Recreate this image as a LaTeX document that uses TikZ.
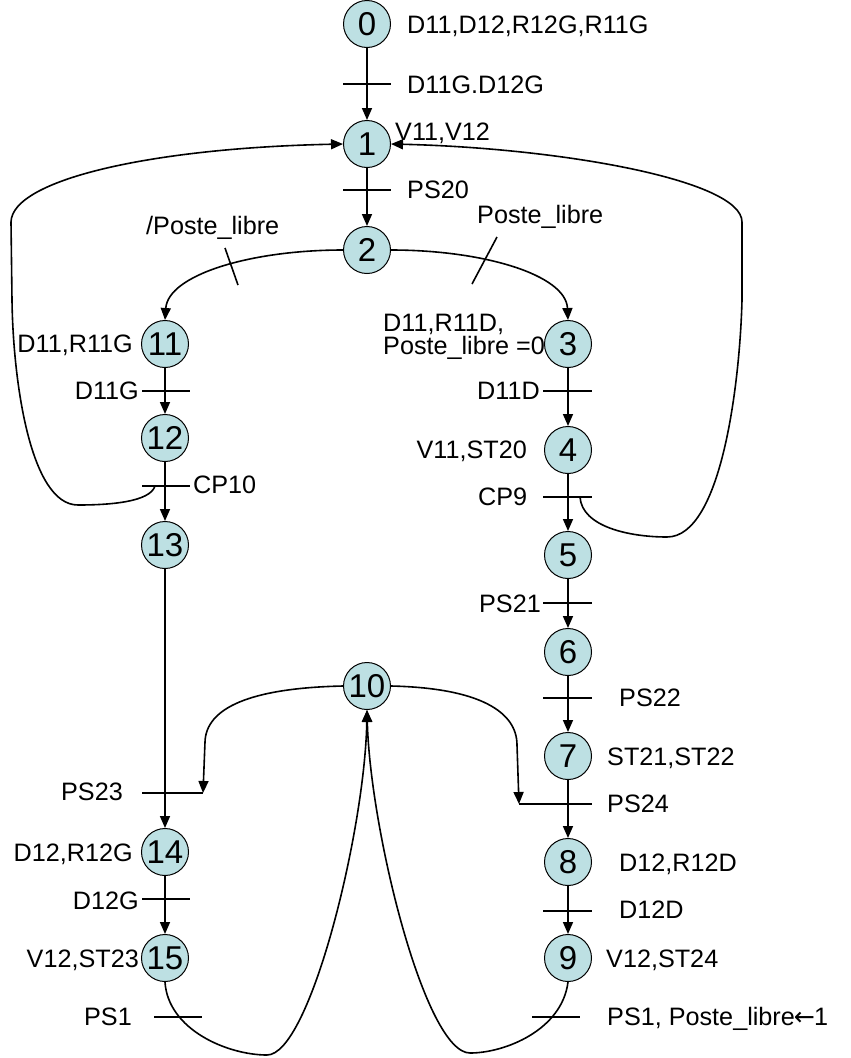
\documentclass[tikz,border=0pt]{standalone}
\usepackage{fontspec}
\setmainfont{Liberation Sans}
\newfontfamily\djv{DejaVu Sans}
\usetikzlibrary{arrows.meta}
\definecolor{stepfill}{RGB}{189,224,227}
\begin{document}
\begin{tikzpicture}[x=1pt,y=-1pt,
  etape/.style={circle,draw,line width=1pt,fill=stepfill,minimum size=47pt,inner sep=0pt,font=\fontsize{33}{33}\selectfont},
  lbl/.style={inner sep=0pt,font=\fontsize{25.2}{25.2}\selectfont},
  arr/.style={line width=1.6pt,-{Triangle[length=12pt,width=10pt]}},
  bar/.style={line width=1.6pt}]
\useasboundingbox (0,0) rectangle (851,1058);

% steps
\node[etape] (n0) at (367,24) {0};
\node[etape] (n1) at (367,144) {1};
\node[etape] (n2) at (367,250) {2};
\node[etape] (n11) at (165,344) {11};
\node[etape] (n12) at (165,438) {12};
\node[etape] (n13) at (165,545) {13};
\node[etape] (n14) at (165,852) {14};
\node[etape] (n15) at (165,958) {15};
\node[etape] (n3) at (568,344) {3};
\node[etape] (n4) at (568,450) {4};
\node[etape] (n5) at (568,555) {5};
\node[etape] (n6) at (568,652) {6};
\node[etape] (n7) at (568,756) {7};
\node[etape] (n8) at (568,862) {8};
\node[etape] (n9) at (568,958) {9};
\node[etape] (n10) at (367,686) {10};

% labels
\node[lbl,anchor=base west] (a0) at (407,33) {D11,D12,R12G,R11G};
\node[lbl,anchor=base west] (t01) at (407,93) {D11G.D12G};
\node[lbl,anchor=base west] (a1) at (395,140) {V11,V12};
\node[lbl,anchor=base west] (t12) at (407,198) {PS20};
\node[lbl,anchor=base west] (t211) at (146,234) {/Poste\_libre};
\node[lbl,anchor=base west] (t23) at (477,223) {Poste\_libre};
\node[lbl,anchor=base east] (a11) at (133,352) {D11,R11G};
\node[lbl,anchor=north west,align=left,font=\fontsize{25.2}{20.5}\selectfont] (a3) at (383,314) {D11,R11D,\\Poste\_libre =0};
\node[lbl,anchor=base east] (t1112) at (139,399) {D11G};
\node[lbl,anchor=base west] (t1213) at (193,493) {CP10};
\node[lbl,anchor=base east] (t34) at (540,399) {D11D};
\node[lbl,anchor=base east] (a4) at (527,458) {V11,ST20};
\node[lbl,anchor=base west] (t45) at (478,505) {CP9};
\node[lbl,anchor=base east] (t56) at (541,612) {PS21};
\node[lbl,anchor=base west] (t67) at (619,706) {PS22};
\node[lbl,anchor=base west] (a7) at (607,765) {ST21,ST22};
\node[lbl,anchor=base west] (t78) at (607,812) {PS24};
\node[lbl,anchor=base east] (t1314) at (123,800) {PS23};
\node[lbl,anchor=base east] (a14) at (133,861) {D12,R12G};
\node[lbl,anchor=base west] (a8) at (619,871) {D12,R12D};
\node[lbl,anchor=base east] (t1415) at (139,909) {D12G};
\node[lbl,anchor=base west] (t89) at (619,918) {D12D};
\node[lbl,anchor=base east] (a15) at (139,967) {V12,ST23};
\node[lbl,anchor=base west] (a9) at (606,967) {V12,ST24};
\node[lbl,anchor=base east] (t1510) at (132,1025) {PS1};
\node[lbl,anchor=base west] (t910) at (607,1025) {PS1, Poste\_libre{\djv\kern-1pt←\kern-1pt}1};

% vertical links
\draw[arr] (n0) -- (n1);
\draw[arr] (n1) -- (n2);
\draw[arr] (n11) -- (n12);
\draw[arr] (n12) -- (n13);
\draw[arr] (n13) -- (n14);
\draw[arr] (n14) -- (n15);
\draw[arr] (n3) -- (n4);
\draw[arr] (n4) -- (n5);
\draw[arr] (n5) -- (n6);
\draw[arr] (n6) -- (n7);
\draw[arr] (n7) -- (n8);
\draw[arr] (n8) -- (n9);

% divergence from 2
\draw[arr] (n2.west) .. controls (250,250) and (168,275) .. (n11.north);
\draw[arr] (n2.east) .. controls (484,250) and (566,275) .. (n3.north);

% loops back to 1
\coordinate (cl) at (155,486);
\draw[arr] (cl) .. controls (150,502) and (110,505) .. (78,505)
  .. controls (30,505) and (13,380) .. (12,300) -- (11,222)
  .. controls (12,180) and (150,148) .. (n1.west);
\coordinate (cr) at (580,497);
\draw[arr] (cr) .. controls (582,527) and (630,537) .. (667,537)
  .. controls (722,537) and (740,380) .. (742,300) -- (742,222)
  .. controls (742,180) and (560,148) .. (n1.east);

% from 10 to the transitions
\coordinate (e23) at (203,793);
\draw[arr] (n10.west) .. controls (250,688) and (206,708) .. (205,742) -- (e23);
\coordinate (e24) at (519,804);
\draw[arr] (n10.east) .. controls (480,688) and (517,712) .. (517,745) -- (e24);

% back to 10
\draw[arr] (n15.south) .. controls (168,1030) and (228,1055) .. (267,1055)
  .. controls (310,1055) and (365,830) .. (n10.south);
\draw[arr] (n9.south) .. controls (562,1030) and (505,1053) .. (470,1053)
  .. controls (425,1053) and (370,830) .. (n10.south);

% transition bars
\draw[bar] (343,84) -- (391,84);
\draw[bar] (343,190) -- (391,190);
\draw[bar] (225,248) -- (238,285);
\draw[bar] (497,237) -- (472,284);
\draw[bar] (142,391) -- (190,391);
\draw[bar] (543,391) -- (592,391);
\draw[bar] (142,486) -- (190,486);
\draw[bar] (543,497) -- (592,497);
\draw[bar] (543,603) -- (592,603);
\draw[bar] (543,698) -- (592,698);
\draw[bar] (142,793) -- (203,793);
\draw[bar] (519,804) -- (592,804);
\draw[bar] (142,899) -- (190,899);
\draw[bar] (543,911) -- (592,911);
\draw[bar] (154,1017) -- (202,1017);
\draw[bar] (532,1017) -- (580,1017);
\end{tikzpicture}
\end{document}
